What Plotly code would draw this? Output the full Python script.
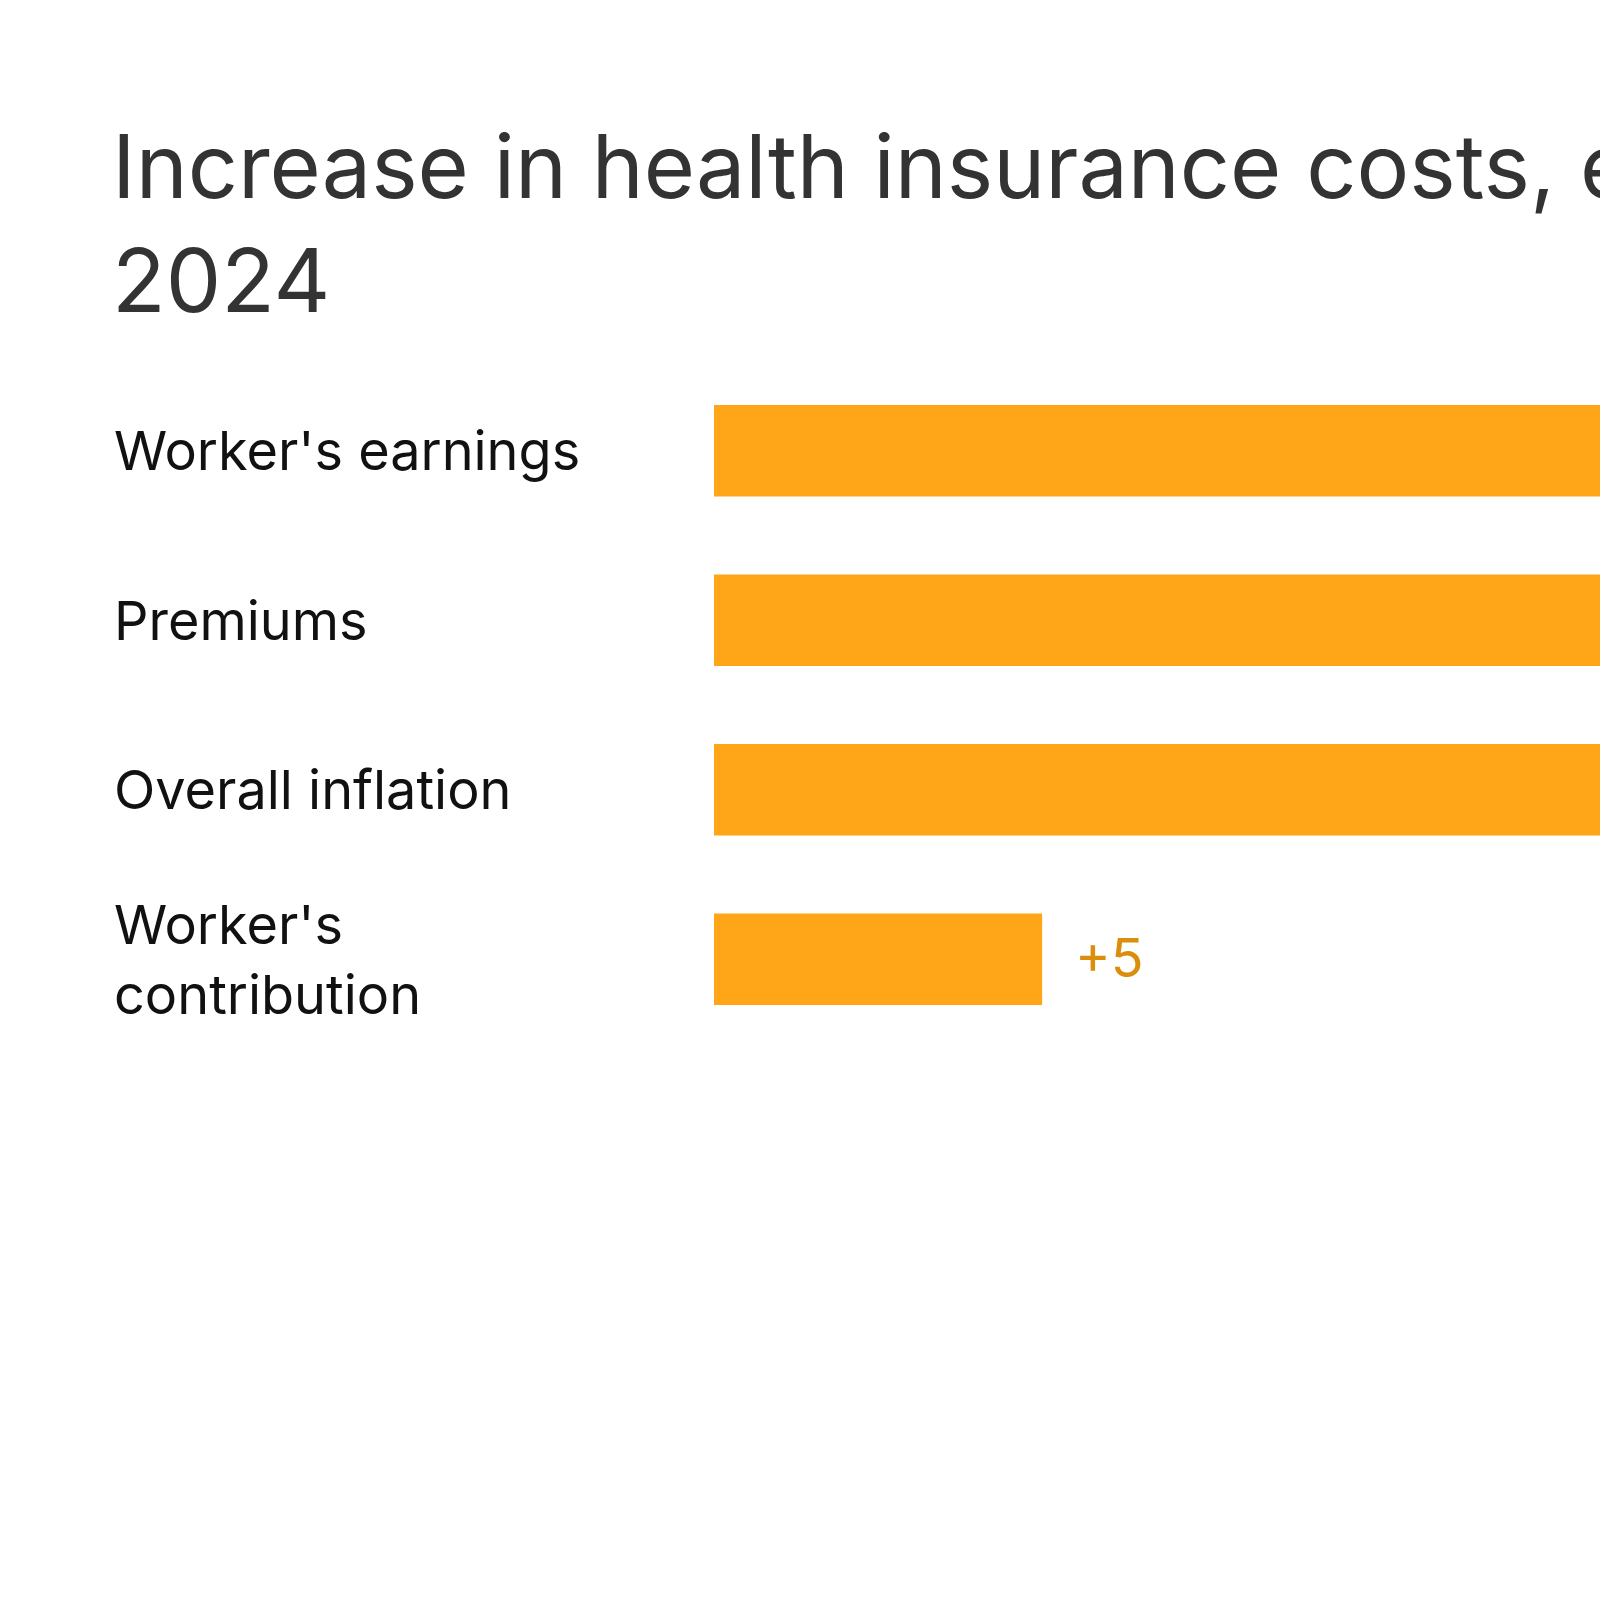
import plotly.graph_objects as go

categories = ["Worker's earnings", "Premiums", "Overall inflation", "Worker's<br>contribution"]
values = [28, 24, 23, 5]
value_labels = ["+28", "+24", "+23", "+5"]
title_text = "Increase in health insurance costs, earnings and inflation, 2019 to<br>2024"

BAR = "#FFA518"
LABEL = "#DB8E0C"
FONT = "Inter"

fig = go.Figure()
fig.add_trace(go.Bar(
    x=values, y=categories, orientation="h",
    marker=dict(color=BAR, line=dict(width=0)),
    width=0.54, hoverinfo="skip",
))

annotations = []
for c in categories:
    annotations.append(dict(
        x=(112 - 714) / 886, xref="paper", y=c, yref="y",
        text=c, showarrow=False, xanchor="left", yanchor="middle", align="left",
        font=dict(family=FONT, size=54, color="#111111"),
    ))
for v, c, t in zip(values, categories, value_labels):
    annotations.append(dict(
        x=v, xref="x", y=c, yref="y", text=t, showarrow=False,
        xanchor="left", yanchor="middle", xshift=31, yshift=2,
        font=dict(family=FONT, size=54, color=LABEL),
    ))

fig.update_layout(
    width=1600, height=1600,
    margin=dict(l=714, r=0, t=366, b=556),
    paper_bgcolor="white", plot_bgcolor="white",
    showlegend=False,
    title=dict(
        text=title_text, x=112 / 1600, xanchor="left", xref="container",
        y=1 - 198 / 1600, yanchor="top", yref="container",
        font=dict(family=FONT, size=88, color="#333333"),
    ),
    xaxis=dict(range=[0, 13.5], visible=False, fixedrange=True),
    yaxis=dict(range=[3.5, -0.5], visible=False, fixedrange=True),
    annotations=annotations,
)

fig.write_html("out.html")
